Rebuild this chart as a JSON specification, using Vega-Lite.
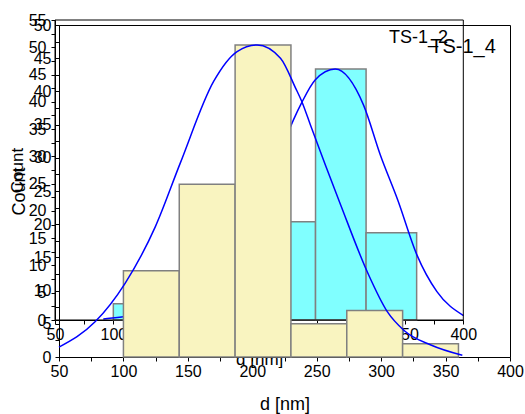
{
  "$schema": "https://vega.github.io/schema/vega-lite/v6.json",
  "width": 451,
  "height": 332,
  "autosize": {"type": "none"},
  "padding": {"left": 59, "top": 25, "right": 15, "bottom": 57},
  "background": "white",
  "config": {
    "view": {"stroke": "black", "strokeWidth": 1},
    "font": "Liberation Sans",
    "axis": {
      "domainColor": "black", "tickColor": "black", "labelColor": "black", "titleColor": "black",
      "grid": false, "labelFont": "Liberation Sans", "titleFont": "Liberation Sans",
      "titleFontWeight": "normal", "labelFontSize": 16, "titleFontSize": 18,
      "labelFlush": false, "labelOverlap": false, "labelBound": false, "tickSize": 4, "tickCount": 100
    }
  },
  "datasets": {
    "barsA": [
      {"d0": 100, "d1": 143.33, "count": 3},
      {"d0": 143.33, "d1": 186.67, "count": 3},
      {"d0": 186.67, "d1": 230, "count": 14},
      {"d0": 230, "d1": 273.33, "count": 18},
      {"d0": 273.33, "d1": 316.67, "count": 46},
      {"d0": 316.67, "d1": 360, "count": 16}
    ],
    "barsB": [
      {"d0": 100, "d1": 143.33, "count": 13},
      {"d0": 143.33, "d1": 186.67, "count": 26},
      {"d0": 186.67, "d1": 230, "count": 47},
      {"d0": 230, "d1": 273.33, "count": 5},
      {"d0": 273.33, "d1": 316.67, "count": 7},
      {"d0": 316.67, "d1": 360, "count": 2}
    ],
    "curveA": [
      {"d": 91.4, "v": 0.2}, {"d": 108.6, "v": 0.6}, {"d": 130, "v": 1.2}, {"d": 160, "v": 2.8},
      {"d": 190, "v": 8}, {"d": 220, "v": 19}, {"d": 240, "v": 29}, {"d": 254.4, "v": 36.7},
      {"d": 261.6, "v": 39.9}, {"d": 273, "v": 44.0}, {"d": 290.2, "v": 46.0}, {"d": 314.5, "v": 39.4},
      {"d": 328.8, "v": 30.3}, {"d": 343.8, "v": 22.0}, {"d": 360.3, "v": 11.9}, {"d": 377.4, "v": 5.2},
      {"d": 400.2, "v": 0.8}
    ],
    "curveB": [
      {"d": 50, "v": 1.5}, {"d": 78, "v": 5.3}, {"d": 101.3, "v": 11.1}, {"d": 124.7, "v": 19.6},
      {"d": 144.1, "v": 29.2}, {"d": 170, "v": 41.5}, {"d": 188.2, "v": 46.0}, {"d": 203.8, "v": 47.0},
      {"d": 221.9, "v": 45.0}, {"d": 233.6, "v": 40.5}, {"d": 238.8, "v": 38.3}, {"d": 245.2, "v": 34.9},
      {"d": 268.6, "v": 22.9}, {"d": 289.3, "v": 12.8}, {"d": 304.9, "v": 6.8}, {"d": 317.8, "v": 4.0},
      {"d": 338.6, "v": 1.8}, {"d": 363, "v": 0.25}
    ],
    "labelA": [{"label": "TS-1_2", "d": 387, "v": 51.7}],
    "labelB": [{"label": "TS-1_4", "d": 389, "v": 46.7}],
    "frameA": [{"x0": 50, "x1": 400, "y0": 0, "y1": 55}]
  },
  "layer": [
    {
      "layer": [
        {
          "data": {"name": "barsA"},
          "mark": {"type": "rect", "fill": "#80FFFF", "stroke": "#808080", "strokeWidth": 1.5},
          "encoding": {
            "x": {
              "field": "d0", "type": "quantitative",
              "scale": {"domain": [50, 400], "range": [-4, 404.3], "nice": false, "zero": false},
              "axis": {
                "orient": "bottom", "offset": -37, "labelOverlap": false, "labelFlush": false, "tickCount": 100,
                "values": [50, 75, 100, 125, 150, 175, 200, 225, 250, 275, 300, 325, 350, 375, 400],
                "format": "d",
                "labelExpr": "datum.value % 50 === 0 ? datum.label : ''",
                "title": "d [nm]", "titleFontSize": 17, "titlePadding": 9
              }
            },
            "x2": {"field": "d1"},
            "y": {
              "field": "count", "type": "quantitative",
              "scale": {"domain": [0, 55], "range": [295, -5], "nice": false, "zero": false},
              "axis": {
                "orient": "left", "offset": 4, "labelOverlap": false, "tickCount": 100,
                "values": [0, 2.5, 5, 7.5, 10, 12.5, 15, 17.5, 20, 22.5, 25, 27.5, 30, 32.5, 35, 37.5, 40, 42.5, 45, 47.5, 50, 52.5, 55],
                "format": "d",
                "labelExpr": "(datum.value * 2) % 10 === 0 ? datum.label : ''",
                "title": "Count", "titleFontSize": 17, "labelPadding": 5, "titlePadding": 2
              }
            },
            "y2": {"datum": 0}
          }
        },
        {
          "data": {"name": "curveA"},
          "mark": {"type": "line", "color": "#0000FF", "strokeWidth": 1.5, "interpolate": "monotone"},
          "encoding": {
            "x": {"field": "d", "type": "quantitative"},
            "y": {"field": "v", "type": "quantitative"}
          }
        },
        {
          "data": {"name": "frameA"},
          "mark": {"type": "rect", "fill": "white", "fillOpacity": 0, "stroke": "black", "strokeWidth": 1},
          "encoding": {
            "x": {"field": "x0", "type": "quantitative"},
            "x2": {"field": "x1"},
            "y": {"field": "y0", "type": "quantitative"},
            "y2": {"field": "y1"}
          }
        },
        {
          "data": {"name": "labelA"},
          "mark": {"type": "text", "align": "right", "baseline": "middle", "fontSize": 18, "color": "black", "font": "Liberation Sans"},
          "encoding": {
            "x": {"field": "d", "type": "quantitative"},
            "y": {"field": "v", "type": "quantitative"},
            "text": {"field": "label"}
          }
        }
      ]
    },
    {
      "layer": [
        {
          "data": {"name": "barsB"},
          "mark": {"type": "rect", "fill": "#F9F4C0", "stroke": "#808080", "strokeWidth": 1.5},
          "encoding": {
            "x": {
              "field": "d0", "type": "quantitative",
              "scale": {"domain": [50, 400], "nice": false, "zero": false},
              "axis": {
                "orient": "bottom", "labelOverlap": false, "labelFlush": false, "tickCount": 100,
                "values": [50, 75, 100, 125, 150, 175, 200, 225, 250, 275, 300, 325, 350, 375, 400],
                "format": "d",
                "labelExpr": "datum.value % 50 === 0 ? datum.label : ''",
                "title": "d [nm]", "titlePadding": 16
              }
            },
            "x2": {"field": "d1"},
            "y": {
              "field": "count", "type": "quantitative",
              "scale": {"domain": [0, 50], "nice": false, "zero": false},
              "axis": {
                "orient": "left", "labelOverlap": false, "tickCount": 100,
                "values": [0, 2.5, 5, 7.5, 10, 12.5, 15, 17.5, 20, 22.5, 25, 27.5, 30, 32.5, 35, 37.5, 40, 42.5, 45, 47.5, 50],
                "format": "d",
                "labelExpr": "(datum.value * 2) % 10 === 0 ? datum.label : ''",
                "title": "Count", "labelPadding": 4, "titlePadding": 5
              }
            },
            "y2": {"datum": 0}
          }
        },
        {
          "data": {"name": "curveB"},
          "mark": {"type": "line", "color": "#0000FF", "strokeWidth": 1.5, "interpolate": "monotone"},
          "encoding": {
            "x": {"field": "d", "type": "quantitative"},
            "y": {"field": "v", "type": "quantitative"}
          }
        },
        {
          "data": {"name": "labelB"},
          "mark": {"type": "text", "align": "right", "baseline": "middle", "fontSize": 20, "color": "black", "font": "Liberation Sans"},
          "encoding": {
            "x": {"field": "d", "type": "quantitative"},
            "y": {"field": "v", "type": "quantitative"},
            "text": {"field": "label"}
          }
        }
      ]
    }
  ],
  "resolve": {"scale": {"x": "independent", "y": "independent"}, "axis": {"x": "independent", "y": "independent"}}
}
